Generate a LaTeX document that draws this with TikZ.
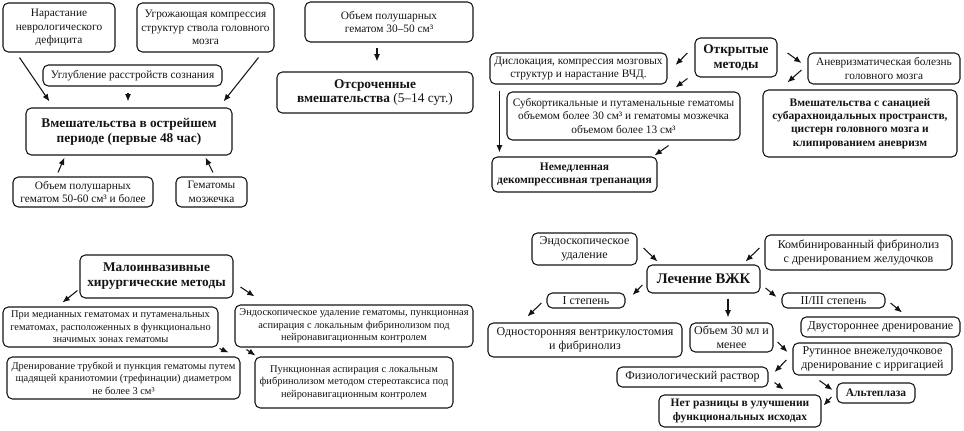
\documentclass[tikz,border=0pt]{standalone}
\usepackage{fontspec}
\setmainfont{Liberation Serif}
\usetikzlibrary{arrows.meta}
\definecolor{figline}{RGB}{20,20,20}
\tikzset{
  bx/.style   ={draw=figline, line width=0.8pt, rounded corners=4pt, align=center, inner sep=1pt, text=figline},
  txt/.style  ={bx, font=\fontsize{8.5}{10}\selectfont},
  txts/.style ={bx, font=\fontsize{7.8}{9.4}\selectfont},
  txtl/.style ={bx, font=\fontsize{9}{10.2}\selectfont},
  ttl/.style  ={bx, font=\fontsize{10}{11.2}\selectfont\bfseries},
  ttls/.style ={bx, font=\fontsize{8.6}{10}\selectfont\bfseries},
  arr/.style  ={draw=figline, line width=0.8pt, -{Latex[length=5.5pt,width=4.5pt]}},
}
\begin{document}
\begin{tikzpicture}[x=0.75pt,y=-0.75pt]
  \useasboundingbox (0,0) rectangle (964,431);
  % acute period
  \node[txt,minimum width=112*0.75pt,minimum height=49*0.75pt] (nar) at (59,27.5) {Нарастание\\неврологического\\дефицита};
  \node[txt,minimum width=137*0.75pt,minimum height=49*0.75pt] (kompr) at (205.5,27.5) {Угрожающая компрессия\\структур ствола головного\\мозга};
  \node[txt,minimum width=179*0.75pt,minimum height=21*0.75pt] (uglub) at (132.5,75.5) {Углубление расстройств сознания};
  \node[ttl,minimum width=206*0.75pt,minimum height=47*0.75pt] (ostr) at (129,131.5) {Вмешательства в острейшем\\периоде (первые 48 час)};
  \node[txt,minimum width=140*0.75pt,minimum height=30*0.75pt] (ob5060) at (83,192) {Объем полушарных\\гематом 50-60 см³ и более};
  \node[txt,minimum width=71*0.75pt,minimum height=30*0.75pt] (mozj) at (211.5,192) {Гематомы\\мозжечка};
  \draw[arr] ([shift={(17,5)}]nar.south west) -- ([shift={(24,-6)}]ostr.north west);
  \draw[arr] ([shift={(-16,5)}]kompr.south east) -- ([shift={(-9,-6)}]ostr.north east);
  \draw[arr] ([shift={(-4.5,6)}]uglub.south) -- ([shift={(-1,-6)}]ostr.north);
  \draw[arr] ([shift={(-25,-4)}]ob5060.north) -- ([shift={(39,2)}]ostr.south west);
  \draw[arr] ([shift={(1.5,-4)}]mozj.north) -- ([shift={(-27,2)}]ostr.south east);
  % delayed
  \node[txt,minimum width=168*0.75pt,minimum height=40*0.75pt] (ob3050) at (389,22) {Объем полушарных\\гематом 30--50 см³};
  \node[ttl,minimum width=196*0.75pt,minimum height=41*0.75pt] (otsr) at (375,92.5) {Отсроченные\\вмешательства \mdseries(5--14 сут.)};
  \draw[arr] ([shift={(-12,5)}]ob3050.south) -- ([shift={(2,-10)}]otsr.north);
  % open methods
  \node[ttl,minimum width=82*0.75pt,minimum height=39*0.75pt] (otkr) at (736,57.5) {Открытые\\методы};
  \node[txt,minimum width=177*0.75pt,minimum height=31*0.75pt] (disl) at (578.5,68.5) {Дислокация, компрессия мозговых\\структур и нарастание ВЧД.};
  \node[txt,minimum width=233*0.75pt,minimum height=48*0.75pt] (subk) at (623.5,116) {Субкортикальные и путаменальные гематомы\\объемом более 30 см³ и гематомы мозжечка\\объемом более 13 см³};
  \node[ttls,minimum width=165*0.75pt,minimum height=35*0.75pt] (nemed) at (574.5,174.5) {Немедленная\\декомпрессивная трепанация};
  \node[txt,minimum width=152*0.75pt,minimum height=31*0.75pt] (anevr) at (884,68.5) {Аневризматическая болезнь\\головного мозга};
  \node[ttls,minimum width=194*0.75pt,minimum height=67*0.75pt] (sanac) at (860,123.5) {Вмешательства с санацией\\субарахноидальных пространств,\\цистерн головного мозга и\\клипированием аневризм};
  \draw[arr] ([shift={(-7,-4.5)}]otkr.west) -- ([shift={(8,-3.5)}]disl.east);
  \draw[arr] ([shift={(-7,1)}]otkr.south west) -- ([shift={(-65,-4)}]subk.north east);
  \draw[arr] ([shift={(10,-4.5)}]otkr.east) -- ([shift={(-6,-5.5)}]anevr.west);
  \draw[arr] ([shift={(-6,1.5)}]anevr.west) -- ([shift={(25,-7)}]sanac.north west);
  \draw[arr] ([shift={(10,6)}]disl.south west) -- ([shift={(8,-4)}]nemed.north west);
  \draw[arr] ([shift={(-72,5)}]subk.south east) -- ([shift={(-3,-1)}]nemed.north east);
  % minimally invasive
  \node[ttl,minimum width=153*0.75pt,minimum height=43*0.75pt] (malo) at (156.5,276.5) {Малоинвазивные\\хирургические методы};
  \node[txts,minimum width=215*0.75pt,minimum height=40*0.75pt] (pri) at (110.5,327) {При медианных гематомах и путаменальных\\гематомах, расположенных в функционально\\значимых зонах гематомы};
  \node[txts,minimum width=233*0.75pt,minimum height=42*0.75pt] (dren) at (123.5,378) {Дренирование трубкой и пункция гематомы путем\\щадящей краниотомии (трефинации) диаметром\\не более 3 см³};
  \node[txts,minimum width=238*0.75pt,minimum height=42*0.75pt] (endo) at (354,326) {Эндоскопическое удаление гематомы, пункционная\\аспирация с локальным фибринолизом под\\нейронавигационным контролем};
  \node[txts,minimum width=198*0.75pt,minimum height=51*0.75pt] (punk) at (354,382.5) {Пункционная аспирация с локальным\\фибринолизом методом стереотаксиса под\\нейронавигационным контролем};
  \draw[arr] ([shift={(-2,-8)}]malo.south west) -- ([shift={(60,-4)}]pri.north west);
  \draw[arr] ([shift={(7,10.5)}]malo.east) -- ([shift={(20,-8)}]endo.north west);
  \draw[arr] ([shift={(1,1)}]pri.south east) -- ([shift={(-12,-4)}]dren.north east);
  \draw[arr] ([shift={(12,2)}]endo.south west) -- ([shift={(1,-1)}]punk.north west);
  % IVH treatment
  \node[txtl,minimum width=105*0.75pt,minimum height=32*0.75pt] (endu) at (584.5,249) {Эндоскопическое\\удаление};
  \node[txtl,minimum width=187*0.75pt,minimum height=35*0.75pt] (komb) at (858.5,252.5) {Комбинированный фибринолиз\\с дренированием желудочков};
  \node[bx,font=\fontsize{11}{12}\selectfont\bfseries,minimum width=113*0.75pt,minimum height=28*0.75pt] (lech) at (703.5,279) {Лечение ВЖК};
  \node[txtl,minimum width=78*0.75pt,minimum height=15*0.75pt] (st1) at (586,300.5) {I степень};
  \node[txtl,minimum width=103*0.75pt,minimum height=15*0.75pt] (st23) at (833.5,300.5) {II/III степень};
  \node[txtl,minimum width=159*0.75pt,minimum height=20*0.75pt] (dvus) at (880.5,327) {Двустороннее дренирование};
  \node[txtl,minimum width=194*0.75pt,minimum height=34*0.75pt] (odns) at (585,340) {Односторонняя вентрикулостомия\\и фибринолиз};
  \node[txtl,minimum width=83*0.75pt,minimum height=29*0.75pt] (ob30) at (731.5,337.5) {Объем 30 мл и\\менее};
  \node[txtl,minimum width=159*0.75pt,minimum height=32*0.75pt] (rutin) at (872.5,359) {Рутинное внежелудочковое\\дренирование с ирригацией};
  \node[txtl,minimum width=151*0.75pt,minimum height=20*0.75pt] (fiz) at (692.5,377) {Физиологический раствор};
  \node[ttls,minimum width=78*0.75pt,minimum height=20*0.75pt] (alte) at (876,393) {Альтеплаза};
  \node[ttls,minimum width=162*0.75pt,minimum height=32*0.75pt] (netr) at (740,411) {Нет разницы в улучшении\\функциональных исходах};
  \draw[arr] ([shift={(6,-1)}]endu.east) -- ([shift={(11,-3)}]lech.north west);
  \draw[arr] ([shift={(-5,-4.5)}]komb.west) -- ([shift={(-15,-3)}]lech.north east);
  \draw[arr] ([shift={(-4,6)}]lech.west) -- ([shift={(7,-5.5)}]st1.east);
  \draw[arr] ([shift={(5,9)}]lech.east) -- ([shift={(-5,-3.5)}]st23.west);
  \draw[arr] ([shift={(24.5,5)}]lech.south) -- ([shift={(-3.5,-5)}]ob30.north);
  \draw[arr] ([shift={(-5,2.5)}]st1.west) -- ([shift={(40,-6)}]odns.north west);
  \draw[arr] ([shift={(5,2.5)}]st23.east) -- ([shift={(21.5,-4)}]dvus.north);
  \draw[arr] ([shift={(4,4.5)}]ob30.east) -- ([shift={(-5,-7)}]rutin.west);
  \draw[arr] ([shift={(-6,1)}]rutin.west) -- ([shift={(6,-5)}]fiz.east);
  \draw[arr] ([shift={(6,-5)}]fiz.south east) -- ([shift={(-38,-5)}]netr.north east);
  \draw[arr] ([shift={(27,5)}]rutin.south west) -- ([shift={(-4,-3)}]alte.west);
  \draw[arr] ([shift={(-5,4)}]alte.west) -- ([shift={(2,-5.5)}]netr.east);
\end{tikzpicture}
\end{document}
